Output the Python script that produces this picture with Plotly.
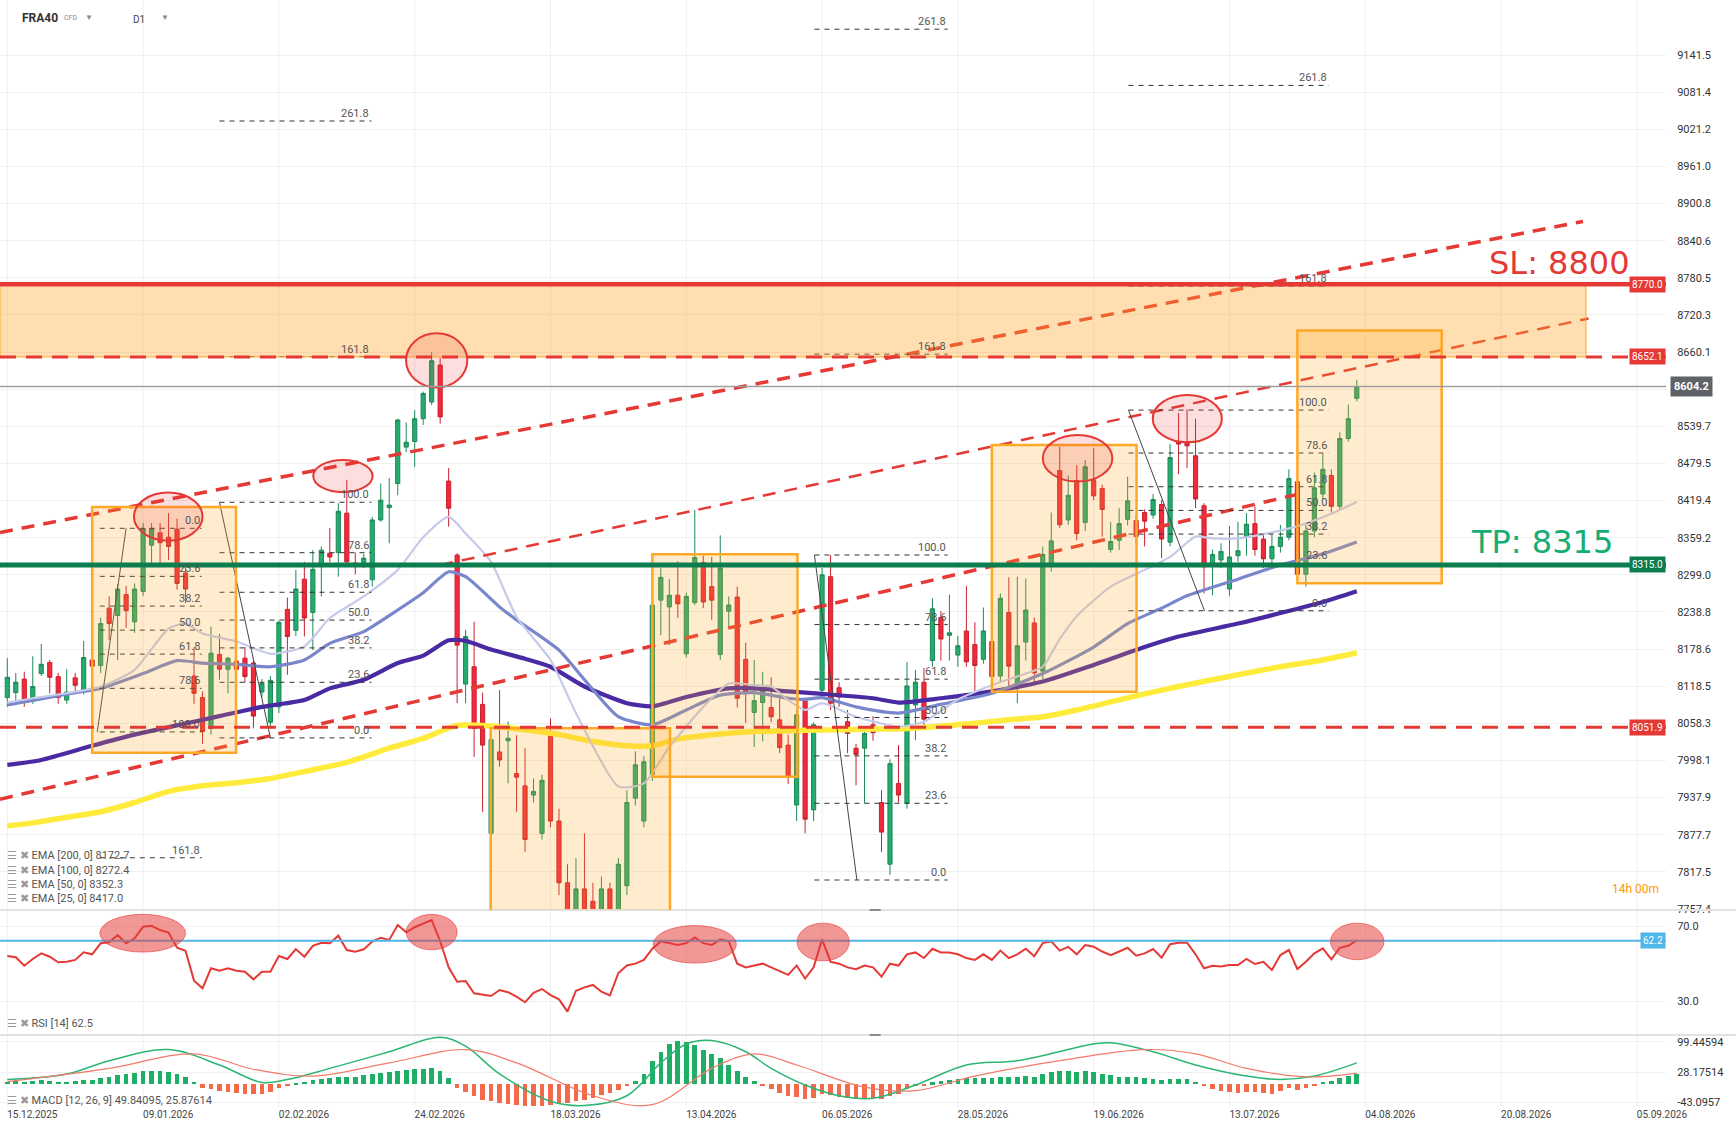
import plotly.graph_objects as go

# ---------------- data ----------------
bars = list(range(160))

opens = [8100,8108,8130,8098,8139,8157,8134,8096,8132,8112,
         8161,8152,8245,8233,8267,8223,8272,8347,8367,8360,
         8373,8302,8135,8100,8050,8170,8146,8159,8164,8156,
         8109,8060,8085,8243,8209,8292,8238,8315,8334,8335,
         8399,8318,8319,8291,8388,8408,8447,8506,8515,8552,
         8579,8639,8451,8331,8122,8150,8089,7880,8012,8030,
         7977,7957,7942,7880,8038,7900,7800,7740,7790,7770,
         7740,7790,7745,7795,7937,7900,7975,8258,8247,8266,
         8171,8254,8319,8280,8170,8240,8263,8162,8076,8092,
         8084,8064,8023,7926,8095,7918,8112,8296,8116,8061,
         8018,8018,8056,7930,7830,7961,7929,8088,8125,8160,
         8230,8201,8169,8208,8186,8162,8191,8135,8238,8122,
         8190,8221,8143,8316,8468,8388,8452,8384,8453,8439,
         8340,8355,8389,8387,8400,8396,8413,8352,8514,8514,
         8492,8411,8316,8323,8276,8330,8361,8382,8357,8325,
         8345,8360,8450,8300,8370,8430,8460,8410,8520,8585]

highs = [8164,8140,8142,8167,8187,8161,8140,8146,8140,8192,
         8165,8230,8264,8284,8281,8285,8383,8383,8383,8399,
         8390,8318,8182,8110,8215,8203,8166,8165,8182,8160,
         8130,8135,8225,8262,8307,8320,8339,8345,8375,8415,
         8453,8335,8333,8393,8447,8456,8552,8546,8566,8596,
         8660,8650,8472,8334,8210,8223,8108,8040,8112,8061,
         8039,8018,7969,7975,8066,7920,7830,7840,7880,7800,
         7810,7800,7840,7950,8013,8005,8260,8310,8292,8321,
         8270,8404,8330,8328,8363,8264,8280,8189,8161,8142,
         8133,8099,8040,8080,8100,8060,8310,8331,8125,8080,
         8025,8050,8070,7950,8000,8023,8158,8145,8148,8261,
         8240,8267,8200,8281,8222,8246,8200,8269,8295,8296,
         8293,8230,8345,8400,8507,8460,8477,8485,8504,8445,
         8385,8407,8458,8395,8405,8430,8420,8511,8561,8567,
         8552,8415,8340,8350,8378,8385,8399,8410,8365,8365,
         8380,8470,8460,8380,8465,8495,8470,8530,8575,8615]

lows = [8085,8095,8085,8090,8135,8107,8090,8090,8110,8105,
        8140,8140,8193,8161,8213,8205,8265,8315,8315,8323,
        8275,8253,8090,8025,8040,8129,8107,8135,8124,8050,
        8100,8050,8075,8137,8200,8199,8177,8264,8320,8296,
        8315,8300,8310,8280,8385,8350,8428,8498,8474,8542,
        8574,8544,8377,8091,8091,8004,7915,7800,7988,7961,
        7915,7850,7930,7870,7890,7780,7700,7720,7700,7720,
        7720,7720,7730,7780,7925,7890,7965,8201,8185,8229,
        8165,8250,8245,8226,8161,8214,8084,8059,8020,8029,
        8060,8010,7960,7900,7880,7900,8100,8080,8085,8010,
        7958,7929,8030,7850,7813,7930,7920,8031,8055,8150,
        8160,8160,8150,8150,8099,8155,8125,8125,8118,8091,
        8160,8125,8130,8304,8375,8380,8355,8370,8420,8361,
        8335,8339,8379,8350,8345,8390,8326,8345,8462,8472,
        8407,8269,8266,8310,8265,8320,8330,8330,8310,8315,
        8335,8355,8285,8280,8360,8420,8400,8405,8515,8580]

closes = [8133,8125,8098,8118,8154,8133,8100,8109,8120,8165,
          8151,8220,8220,8276,8241,8276,8374,8374,8351,8345,
          8285,8276,8107,8045,8172,8146,8164,8146,8134,8070,
          8123,8128,8222,8199,8276,8229,8308,8339,8328,8402,
          8320,8315,8326,8388,8420,8412,8550,8514,8552,8593,
          8646,8555,8407,8185,8199,8050,8023,8032,7999,8034,
          7971,7870,7948,7966,7900,7800,7740,7790,7735,7740,
          7790,7745,7830,7930,7991,7996,8250,8295,8266,8252,
          8264,8327,8255,8258,8310,8250,8099,8109,8095,8110,
          8069,8019,7972,8072,7903,8056,8299,8091,8101,8042,
          8008,8042,8043,7882,7993,7942,8119,8125,8065,8244,
          8195,8205,8184,8158,8152,8208,8134,8261,8151,8184,
          8242,8140,8332,8354,8380,8428,8366,8474,8427,8405,
          8353,8382,8419,8361,8386,8421,8357,8489,8511,8508,
          8422,8312,8332,8337,8328,8338,8381,8340,8325,8345,
          8360,8455,8300,8370,8440,8470,8410,8520,8552,8604.2]

ema200_x = [0,3,7,11,15,19,23,27,31,35,40,45,49,53,57,61,65,69,73,76,79,84,88,94,98,102,106,112,118,122,126,130,134,138,145,150,155,159]
ema200_y = [7892,7897,7906,7915,7930,7948,7957,7962,7969,7980,7995,8018,8034,8055,8054,8048,8040,8029,8022,8022,8033,8041,8045,8047,8048,8049,8050,8056,8064,8069,8080,8093,8106,8118,8137,8150,8161,8172.7]

ema100_x = [0,4,10,15,20,25,30,35,38,42,46,49,52,54,57,61,64,68,73,76,80,85,88,92,96,102,105,110,116,122,128,134,138,145,150,155,159]
ema100_y = [7991,7999,8022,8040,8055,8070,8085,8096,8115,8129,8156,8168,8193,8192,8178,8163,8150,8118,8091,8086,8101,8115,8115,8110,8106,8099,8092,8099,8110,8126,8153,8182,8199,8220,8237,8255,8272.4]

ema50_x = [0,4,8,11,16,20,23,27,31,35,38,42,46,49,52,54,58,60,65,68,72,76,80,84,88,92,94,96,100,105,110,116,122,128,132,136,139,145,150,155,159]
ema50_y = [8088,8098,8108,8115,8139,8160,8156,8154,8150,8161,8188,8207,8242,8270,8304,8296,8247,8226,8177,8129,8069,8056,8080,8104,8108,8099,8097,8100,8085,8075,8089,8107,8139,8182,8220,8245,8265,8292,8315,8333,8352.3]

ema25_x = [0,3,7,11,15,19,21,23,27,31,35,38,42,46,49,52,54,57,60,64,67,72,75,78,82,85,88,90,92,94,96,100,105,108,112,116,120,122,124,126,130,134,137,140,142,145,148,152,156,159]
ema25_y = [8092,8099,8107,8118,8145,8212,8220,8204,8191,8171,8183,8229,8264,8307,8360,8393,8366,8320,8231,8161,8075,7956,7961,8020,8085,8123,8120,8118,8096,8080,8091,8069,8053,8061,8097,8120,8139,8150,8195,8232,8280,8307,8328,8361,8358,8358,8365,8378,8398,8417]

rsi = [54.1,53.4,48.9,52.5,55.5,53.7,50.7,51.0,52.0,56.1,
       55.0,60.9,61.4,65.3,60.9,63.6,69.8,70.3,68.0,66.6,
       58.5,56.9,40.9,36.8,47.5,46.2,47.5,46.2,45.7,41.6,
       45.7,45.7,54.1,52.5,57.8,53.7,59.5,61.2,60.9,65.0,
       57.3,56.4,57.7,61.8,63.9,62.7,70.7,66.8,69.5,71.5,
       73.4,62.0,48.0,40.3,40.7,34.1,33.6,32.7,35.9,34.7,
       32.3,29.3,34.4,36.4,33.2,30.9,24.3,35.5,37.3,38.6,
       35.0,33.0,45.0,49.0,50.0,52.0,58.0,62.0,61.0,60.0,
       61.0,64.0,61.0,60.0,63.0,62.0,50.0,48.0,49.0,50.0,
       48.0,46.0,44.0,49.0,42.0,48.0,63.0,51.0,50.0,48.0,
       47.0,49.0,48.0,43.0,50.0,49.0,55.0,56.0,53.0,58.0,
       56.0,56.0,55.0,53.0,52.0,55.0,52.0,57.0,53.0,55.0,
       58.0,54.0,61.0,62.0,57.0,59.0,55.0,60.0,59.1,56.5,
       54.6,56.5,58.5,54.3,55.5,57.8,53.2,60.4,61.2,61.2,
       55.0,47.5,48.9,48.5,49.3,49.3,52.5,49.8,51.0,46.6,
       54.6,57.3,47.1,51.0,55.5,58.2,52.3,58.5,59.6,62.5]
rsi_level = 62.2

macd_hist = [6,8,6,7,9,8,6,6,7,9,
             10,14,18,22,24,26,30,32,30,28,24,18,5,
             -8,-12,-15,-18,-20,-22,-24,-22,-18,
             -10,-4,3,6,10,13,15,18,17,18,21,24,27,28,32,34,35,36,38,30,15,
             -8,-18,-28,-36,-40,-44,-46,-48,-50,-50,-50,-48,-46,-45,-40,-36,-32,-26,-20,-14,
             -5,8,25,55,75,95,100,98,92,80,70,62,45,30,18,8,
             -4,-12,-20,-28,-30,-35,-32,-22,-26,-30,-32,-34,-33,-32,-34,-28,-22,-12,-5,-2,
             4,8,10,12,14,14,15,14,18,17,18,20,18,24,28,32,30,28,30,28,25,21,18,18,16,14,12,9,12,13,11,5,
             -5,-12,-16,-19,-20,-18,-19,-20,-22,-17,-10,-14,-8,-2,6,8,14,19,23.96]
macd_x = [0,7,12,19,25,30,33,38,45,51,54,58,64,68,73,77,80,83,87,90,94,98,102,107,113,119,128,130,135,140,146,150,154,159]
macd_v = [11,24,55,81,45,4,11,37,76,110,89,24,-40,-50,-27,50,94,102,76,37,-2,-27,-33,-2,45,55,94,97,76,45,19,11,19,49.84]
sig_x = [0,12,22,29,36,45,54,60,69,76,83,88,93,101,107,114,124,134,140,146,153,159]
sig_v = [6,37,71,35,19,50,81,50,-27,-48,37,71,45,-7,-15,19,55,81,71,37,17,25.88]

date_labels = ["15.12.2025","09.01.2026","02.02.2026","24.02.2026","18.03.2026","13.04.2026",
               "06.05.2026","28.05.2026","19.06.2026","13.07.2026","04.08.2026","20.08.2026","05.09.2026"]
date_bars = [0,16,32,48,64,80,96,112,128,144,160,176,192]

price_ticks = [7757.4,7817.5,7877.7,7937.9,7998.1,8058.3,8118.5,8178.6,8238.8,8299.0,8359.2,8419.4,
               8479.5,8539.7,8599.9,8660.1,8720.3,8780.5,8840.6,8900.8,8961.0,9021.2,9081.4,9141.5]
rsi_ticks = [30.0, 70.0]
macd_ticks = [-43.0957, 28.17514, 99.44594]
macd_tick_text = ["-43.0957", "28.17514", "99.44594"]

sl_price = 8770.0
sl_label = "SL: 8800"
tp_price = 8315.0
tp_label = "TP: 8315"
resist_price = 8652.1
support_price = 8051.9
last_price = 8604.2

# trend lines (start bar, start price, end bar, end price)
trend_x0 = [-0.86, -0.86, 51.0]
trend_y0 = [8367.7, 7935.3, 8314.9]
trend_x1 = [185.65, 152.0, 186.3]
trend_y1 = [8871.8, 8429.4, 8714.5]
trend_w = [3.5, 3.5, 2.5]

# orange boxes
box_x0 = [10.0, 56.95, 76.0, 116.0, 152.0]
box_x1 = [26.95, 78.08, 93.1, 133.05, 169.0]
box_y0 = [8010.7, 7700.0, 7971.9, 8109.6, 8285.2]
box_y1 = [8408.9, 8050.3, 8332.2, 8509.4, 8695.0]
zone_x0, zone_x1 = -0.86, 186.0

# ellipses on price
ell_x0 = [14.92, 36.05, 46.98, 122.0, 134.96]
ell_x1 = [23.0, 43.04, 54.2, 130.2, 143.1]
ell_y0 = [8354.4, 8432.9, 8602.7, 8450.2, 8513.7]
ell_y1 = [8432.3, 8485.2, 8690.6, 8525.6, 8590.5]
# ellipses on RSI
rell_x0 = [10.9, 47.0, 76.1, 93.05, 155.9]
rell_x1 = [21.0, 53.0, 85.9, 99.2, 162.2]
rell_y0 = [56.2, 57.4, 50.3, 51.5, 52.1]
rell_y1 = [76.4, 76.4, 70.4, 71.7, 71.7]

# fibonacci tools
fib_x0 = [10.9, 25.0, 95.1, 132.1]
fib_x1 = [22.9, 42.9, 110.8, 155.7]
fib_zero = [8374.4, 8034.7, 7804.4, 8240.8]
fib_hundred = [8044.4, 8416.6, 8331.1, 8566.0]
fib_levels = [[0, 23.6, 38.2, 50.0, 61.8, 78.6, 100.0, 161.8],
              [0, 23.6, 38.2, 50.0, 61.8, 78.6, 100.0, 161.8, 261.8],
              [0, 23.6, 38.2, 50.0, 61.8, 78.6, 100.0, 161.8, 261.8],
              [0, 23.6, 38.2, 50.0, 61.8, 78.6, 100.0, 161.8, 261.8]]
fib_diag_a = [10.6, 25.0, 95.1, 132.1]
fib_diag_b = [14.0, 31.0, 100.1, 141.05]

ema_legend = ["EMA [200, 0] 8172.7", "EMA [100, 0] 8272.4", "EMA [50, 0] 8352.3", "EMA [25, 0] 8417.0"]

# ---------------- geometry ----------------
W, H = 1736, 1139
MR, MB = 70, 32
PW, PH = W - MR, H - MB


def py(o):
    return (PH - o) / PH


def pxp(o):
    return o / PW


X_RANGE = [-0.86, 195.43]
P_DOM = [py(910), 1.0]
R_DOM = [py(1035), py(910)]
M_DOM = [0.0, py(1035)]

RED = "#e53935"
GREEN_LINE = "#0b7d4f"

fig = go.Figure()

fig.add_trace(go.Candlestick(
    x=bars, open=opens, high=highs, low=lows, close=closes,
    increasing=dict(line=dict(color="#1b8a56", width=1), fillcolor="#26ab6e"),
    decreasing=dict(line=dict(color="#c8202e", width=1), fillcolor="#f2293a"),
    whiskerwidth=0, hoverinfo="skip", showlegend=False, xaxis="x", yaxis="y"))

for ex, ey, col, w in [(ema200_x, ema200_y, "#ffeb3b", 5.5),
                       (ema100_x, ema100_y, "#4a2aa3", 4.2),
                       (ema50_x, ema50_y, "#7986cb", 3.2),
                       (ema25_x, ema25_y, "#c5cae9", 2.2)]:
    fig.add_trace(go.Scatter(x=ex, y=ey, mode="lines", line=dict(color=col, width=w, shape="spline", smoothing=0.6),
                             hoverinfo="skip", showlegend=False, xaxis="x", yaxis="y"))

fig.add_trace(go.Scatter(x=bars, y=rsi, mode="lines", line=dict(color=RED, width=2),
                         hoverinfo="skip", showlegend=False, xaxis="x", yaxis="y2"))

fig.add_trace(go.Bar(x=bars, y=macd_hist, width=0.55,
                     marker=dict(color=["#1fae66" if v >= 0 else "#f4694a" for v in macd_hist], line=dict(width=0)),
                     hoverinfo="skip", showlegend=False, xaxis="x", yaxis="y3"))
fig.add_trace(go.Scatter(x=macd_x, y=macd_v, mode="lines", line=dict(color="#2bb673", width=1.5, shape="spline"),
                         hoverinfo="skip", showlegend=False, xaxis="x", yaxis="y3"))
fig.add_trace(go.Scatter(x=sig_x, y=sig_v, mode="lines", line=dict(color="#f27a6a", width=1.2, shape="spline"),
                         hoverinfo="skip", showlegend=False, xaxis="x", yaxis="y3"))

shapes = []
# vertical grid
for b in date_bars:
    shapes.append(dict(type="line", xref="x", yref="paper", x0=b, x1=b, y0=0, y1=1,
                       line=dict(color="#efefef", width=1), layer="below"))
# pane separators
for yv in (py(910), py(1035)):
    shapes.append(dict(type="line", xref="paper", yref="paper", x0=0, x1=W / PW, y0=yv, y1=yv,
                       line=dict(color="#e2e2e2", width=2), layer="above"))
    shapes.append(dict(type="line", xref="x", yref="paper", x0=101.6, x1=102.9, y0=yv, y1=yv,
                       line=dict(color="#8a8a8a", width=2), layer="above"))

# trend lines
for i in range(len(trend_x0)):
    shapes.append(dict(type="line", xref="x", yref="y", x0=trend_x0[i], y0=trend_y0[i], x1=trend_x1[i], y1=trend_y1[i],
                       line=dict(color=RED, width=trend_w[i], dash="13px,9px"), layer="above"))

# fib lines
annotations = []
for k in range(len(fib_x0)):
    z, h = fib_zero[k], fib_hundred[k]
    for lv in fib_levels[k]:
        p = z + lv / 100.0 * (h - z)
        shapes.append(dict(type="line", xref="x", yref="y", x0=fib_x0[k], x1=fib_x1[k], y0=p, y1=p,
                           line=dict(color="#333333", width=1, dash="5px,5px"), layer="above"))
        annotations.append(dict(x=fib_x1[k], y=p, xref="x", yref="y", text=f"{lv:.1f}", showarrow=False,
                                xanchor="right", yanchor="bottom", yshift=-1,
                                font=dict(size=11, color="#555555")))
    shapes.append(dict(type="line", xref="x", yref="y", x0=fib_diag_a[k], y0=h, x1=fib_diag_b[k], y1=z,
                       line=dict(color="#444444", width=1), layer="above"))

# orange boxes
for i in range(len(box_x0)):
    shapes.append(dict(type="rect", xref="x", yref="y", x0=box_x0[i], x1=box_x1[i], y0=box_y0[i], y1=box_y1[i],
                       fillcolor="rgba(255,167,38,0.22)", line=dict(color="#ffa726", width=2.5), layer="above"))
# resistance zone
shapes.append(dict(type="rect", xref="x", yref="y", x0=zone_x0, x1=zone_x1, y0=resist_price, y1=sl_price,
                   fillcolor="rgba(255,167,38,0.36)", line=dict(color="#ffa726", width=1), layer="above"))
# ellipses
for i in range(len(ell_x0)):
    shapes.append(dict(type="circle", xref="x", yref="y", x0=ell_x0[i], x1=ell_x1[i], y0=ell_y0[i], y1=ell_y1[i],
                       fillcolor="rgba(229,57,53,0.17)", line=dict(color=RED, width=2), layer="above"))
# key horizontal lines
shapes.append(dict(type="line", xref="paper", yref="y", x0=0, x1=1, y0=last_price, y1=last_price,
                   line=dict(color="#9e9e9e", width=1.5), layer="above"))
shapes.append(dict(type="line", xref="paper", yref="y", x0=0, x1=1, y0=resist_price, y1=resist_price,
                   line=dict(color=RED, width=3, dash="16px,10px"), layer="above"))
shapes.append(dict(type="line", xref="paper", yref="y", x0=0, x1=1, y0=support_price, y1=support_price,
                   line=dict(color=RED, width=3, dash="16px,10px"), layer="above"))
shapes.append(dict(type="line", xref="paper", yref="y", x0=0, x1=1, y0=sl_price, y1=sl_price,
                   line=dict(color=RED, width=4.5), layer="above"))
shapes.append(dict(type="line", xref="paper", yref="y", x0=0, x1=1, y0=tp_price, y1=tp_price,
                   line=dict(color=GREEN_LINE, width=5), layer="above"))
# RSI level + ellipses
shapes.append(dict(type="line", xref="paper", yref="y2", x0=0, x1=1, y0=rsi_level, y1=rsi_level,
                   line=dict(color="#4fb6ea", width=2), layer="above"))
for i in range(len(rell_x0)):
    shapes.append(dict(type="circle", xref="x", yref="y2", x0=rell_x0[i], x1=rell_x1[i], y0=rell_y0[i], y1=rell_y1[i],
                       fillcolor="rgba(229,57,53,0.52)", line=dict(color="rgba(229,57,53,0.6)", width=1), layer="above"))

# ---------------- texts ----------------
annotations.append(dict(x=182.9, y=8805, xref="x", yref="y", text=sl_label, showarrow=False,
                        font=dict(family="DejaVu Sans", size=32, color=RED)))
annotations.append(dict(x=180.8, y=8351.5, xref="x", yref="y", text=tp_label, showarrow=False,
                        font=dict(family="DejaVu Sans", size=32, color="#14ad73")))

for val, col in [(sl_price, RED), (resist_price, RED), (tp_price, GREEN_LINE), (support_price, RED)]:
    annotations.append(dict(x=1.0, y=val, xref="paper", yref="y", text=f"{val:.1f}", showarrow=False,
                            xanchor="right", yanchor="middle", bgcolor=col, borderpad=2,
                            font=dict(size=10, color="white")))
annotations.append(dict(x=1.0, y=last_price, xref="paper", yref="y", text=f"<b>{last_price:.1f}</b>", showarrow=False,
                        xanchor="left", yanchor="middle", bgcolor="#5f6368", borderpad=3, xshift=4,
                        font=dict(size=11, color="white")))
annotations.append(dict(x=1.0, y=rsi_level, xref="paper", yref="y2", text=f"{rsi_level:.1f}", showarrow=False,
                        xanchor="right", yanchor="middle", bgcolor="#4fb6ea", borderpad=2,
                        font=dict(size=10, color="white")))

# header
annotations += [
    dict(x=pxp(20), y=py(18), xref="paper", yref="paper", text="<b>FRA40</b>", showarrow=False,
         xanchor="left", yanchor="middle", font=dict(size=12, color="#333333")),
    dict(x=pxp(62), y=py(18), xref="paper", yref="paper", text="CFD", showarrow=False,
         xanchor="left", yanchor="middle", font=dict(size=7, color="#888888")),
    dict(x=pxp(83), y=py(17), xref="paper", yref="paper", text="▼", showarrow=False,
         xanchor="left", yanchor="middle", font=dict(size=8, color="#888888")),
    dict(x=pxp(131), y=py(19), xref="paper", yref="paper", text="D1", showarrow=False,
         xanchor="left", yanchor="middle", font=dict(size=10, color="#444444")),
    dict(x=pxp(159), y=py(17), xref="paper", yref="paper", text="▼", showarrow=False,
         xanchor="left", yanchor="middle", font=dict(size=8, color="#888888")),
]
# indicator legends
for j, txt in enumerate(ema_legend):
    annotations.append(dict(x=pxp(5), y=py(855.7 + 14.4 * j), xref="paper", yref="paper",
                            text="<span style='color:#9a9a9a'>☰ ✖</span> " + txt, showarrow=False,
                            xanchor="left", yanchor="middle", font=dict(size=11, color="#555555")))
annotations.append(dict(x=pxp(5), y=py(1023), xref="paper", yref="paper",
                        text="<span style='color:#9a9a9a'>☰ ✖</span> RSI [14] 62.5", showarrow=False,
                        xanchor="left", yanchor="middle", font=dict(size=11, color="#555555")))
annotations.append(dict(x=pxp(5), y=py(1100), xref="paper", yref="paper",
                        text="<span style='color:#9a9a9a'>☰ ✖</span> MACD [12, 26, 9] 49.84095, 25.87614", showarrow=False,
                        xanchor="left", yanchor="middle", font=dict(size=11, color="#555555")))
annotations.append(dict(x=0.997, y=py(889), xref="paper", yref="paper", text="14h 00m", showarrow=False,
                        xanchor="right", yanchor="middle", font=dict(size=12, color="#ff9800")))

axis_common = dict(side="right", anchor="x", tickmode="array", showgrid=True, gridcolor="#f0f0f0", gridwidth=1,
                   zeroline=False, showline=False, ticks="outside", ticklen=8, tickcolor="rgba(0,0,0,0)",
                   tickfont=dict(size=11, color="#333333"), fixedrange=True, automargin=False)

fig.update_layout(
    width=W, height=H, margin=dict(l=0, r=MR, t=0, b=MB, pad=0), autosize=False,
    paper_bgcolor="white", plot_bgcolor="white",
    font=dict(family="Roboto, Arial, sans-serif", size=11, color="#444444"),
    showlegend=False, bargap=0, hovermode=False,
    shapes=shapes, annotations=annotations,
    xaxis=dict(domain=[0, 1], range=X_RANGE, anchor="y3", showgrid=False, zeroline=False, showline=False,
               tickmode="array", tickvals=[b + 2.95 for b in date_bars], ticktext=date_labels, ticks="",
               tickfont=dict(size=10, color="#444444"), rangeslider=dict(visible=False), fixedrange=True,
               automargin=False),
    yaxis=dict(domain=P_DOM, range=[7755.78, 9230.64], tickvals=price_ticks,
               ticktext=["" if abs(v - 8599.9) < 0.01 else f"{v:.1f}" for v in price_ticks], **axis_common),
    yaxis2=dict(domain=R_DOM, range=[11.79, 78.73], tickvals=rsi_ticks,
                ticktext=[f"{v:.1f}" for v in rsi_ticks], **axis_common),
    yaxis3=dict(domain=M_DOM, range=[-53.37, 115.13], tickvals=macd_ticks, ticktext=macd_tick_text, **axis_common),
)

fig.write_html("out.html", config={"displayModeBar": False},
               post_script="document.body.style.margin='0';document.body.style.overflow='hidden';")
